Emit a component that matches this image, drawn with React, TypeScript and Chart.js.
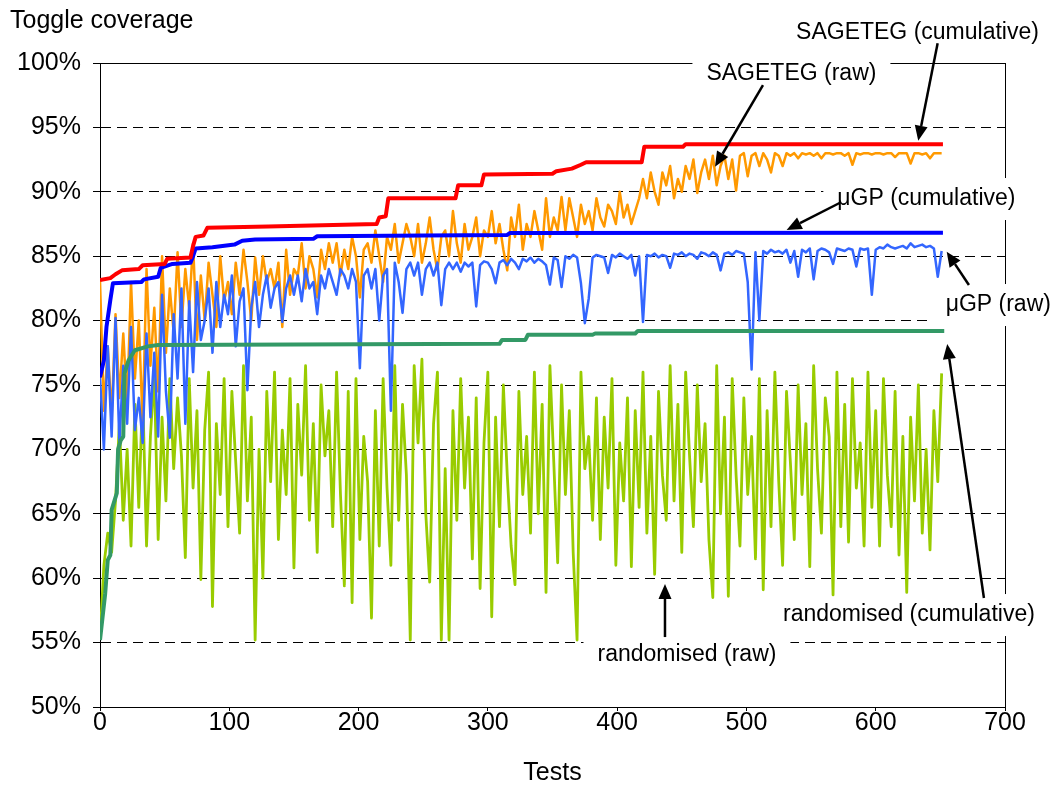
import React, { useEffect, useRef } from "react";
import { Chart, registerables } from "chart.js";

Chart.register(...registerables);

// ---------- data ----------
const X_MIN = 0;
const X_MAX = 700;
const X_STEP = 100;
const Y_MIN = 50;
const Y_MAX = 100;
const Y_STEP = 5;

// raw series are sampled every RAW_STEP tests
const RAW_STEP = 3;

const SAGETEG_RAW = [
  83.1, 73.0, 78.0, 72.5, 80.5, 74.0, 79.0, 73.5, 83.0, 75.5,
  80.0, 72.0, 84.0, 76.5, 81.0, 74.5, 85.0, 77.5, 82.5, 79.0,
  85.3, 79.5, 84.0, 81.0, 86.0, 78.5, 83.5, 80.0, 84.5, 82.0,
  79.5, 85.0, 81.5, 83.0, 80.5, 84.5, 82.0, 85.5, 83.0, 80.0,
  84.9, 82.0, 85.0, 83.0, 84.0, 82.5, 84.5, 79.5, 85.5, 82.0,
  84.0, 83.5, 86.0, 82.5, 85.0, 84.0, 81.8, 85.5, 84.0, 86.0,
  84.5, 86.0, 83.5, 85.5, 84.0, 86.5, 85.0, 81.8, 85.5, 86.0,
  84.5, 87.0, 85.0, 83.0, 86.5, 85.5, 87.5, 84.5, 86.0, 87.5,
  86.5, 85.0, 87.5, 84.5, 86.0, 88.0, 85.5, 83.9, 86.5, 87.0,
  85.0, 88.5, 86.0, 84.5, 87.5, 85.5, 86.5, 88.0, 85.0, 87.0,
  86.5, 88.5, 86.0, 87.5, 85.5, 83.9, 88.0, 86.5, 89.0, 85.5,
  87.5, 86.5, 88.5, 87.0, 85.5, 89.5, 86.5, 88.0, 87.0, 89.6,
  87.0, 89.5, 88.0, 86.5, 89.0, 87.5, 88.5, 87.0, 89.5, 88.0,
  87.3, 89.0, 88.5, 87.5, 90.0, 88.0, 89.0, 87.5, 88.5, 89.5,
  91.0, 89.5, 91.5, 90.0, 89.0, 91.5, 90.5, 92.0, 89.5, 91.0,
  90.0, 92.0, 91.0, 92.5, 89.9, 91.5, 92.5, 91.0, 92.8, 90.5,
  92.0, 92.8, 91.0, 92.5, 90.1, 92.8, 93.0, 91.2, 92.8, 93.0,
  92.0, 93.0, 92.5, 91.5, 93.0, 92.8, 92.0, 93.0, 92.8, 93.0,
  92.6, 93.0, 92.9, 93.0, 92.8, 93.0, 92.6, 93.0, 93.0, 92.9,
  93.0, 93.0, 92.8, 93.0, 92.1, 93.0, 92.9, 93.0, 93.0, 92.9,
  93.0, 93.0, 92.9, 93.0, 93.0, 92.7, 93.0, 93.0, 93.0, 92.2,
  93.0, 93.0, 92.9, 93.0, 92.6, 93.0, 93.0, 93.0,
];

const MUGP_RAW = [
  75.6, 70.0, 78.0, 71.0, 80.2, 70.5, 76.5, 72.0, 79.5, 71.5,
  74.0, 70.5, 79.0, 72.5, 77.5, 71.0, 82.0, 74.5, 70.9, 80.5,
  75.5, 82.5, 72.0, 81.5, 76.0, 83.0, 78.5, 80.0, 82.5, 77.5,
  83.0, 79.5, 82.0, 80.5, 83.5, 78.0, 81.5, 82.5, 74.6, 81.0,
  83.0, 79.5, 82.0, 83.5, 81.0, 82.5, 83.0, 79.9, 82.5, 83.5,
  82.0, 83.5, 81.5, 84.0, 82.5, 83.0, 80.5, 83.5, 82.5, 84.0,
  83.0, 82.0, 84.0, 83.5, 82.5, 84.0, 83.0, 76.3, 83.5, 84.0,
  82.5, 84.0, 80.0, 83.5, 84.0, 73.0, 84.5, 83.0, 80.6, 84.0,
  84.5, 83.5, 84.5, 82.0, 84.0, 84.5, 83.5, 84.5, 81.2, 84.0,
  84.5, 84.0, 84.5, 83.8, 84.5, 84.2, 84.5, 81.1, 84.3, 84.6,
  84.5, 84.0, 82.9, 84.5, 84.7, 84.3, 84.8, 84.5, 84.0, 84.8,
  84.6, 84.9, 84.5, 84.8, 84.6, 84.3, 82.8, 84.9, 84.7, 82.6,
  85.0, 84.8, 85.1, 84.9, 82.9, 79.8, 81.7, 84.9, 85.1, 85.0,
  84.9, 83.7, 85.1, 84.9, 85.2, 85.0, 84.8, 85.1, 83.5, 85.0,
  79.9, 85.1, 85.0, 85.2, 84.9, 85.1, 85.0, 84.1, 85.2, 85.1,
  85.3, 85.0, 85.2, 85.1, 84.8, 85.3, 85.2, 85.0, 85.3, 85.1,
  83.9, 85.2, 85.3, 85.1, 85.4, 85.3, 85.2, 83.0, 76.2, 85.3,
  80.0, 85.4, 85.2, 85.5, 85.3, 85.4, 85.2, 85.5, 84.5, 85.4,
  83.4, 85.5, 85.3, 85.6, 83.2, 85.4, 85.6, 85.5, 85.3, 84.4,
  85.6, 85.5, 85.4, 85.6, 85.5, 84.2, 85.6, 85.5, 85.6, 82.0,
  85.5, 85.7, 85.6, 85.9, 85.7, 85.6, 85.7, 85.8, 85.6, 86.0,
  85.7, 85.8, 85.9, 85.7, 85.8, 85.6, 83.4, 85.4,
];

const RANDOM_RAW = [
  55.2, 61.0, 63.5, 62.0, 66.0, 72.0, 64.5, 70.0, 62.5, 73.5,
  65.5, 74.5, 62.5, 71.0, 76.0, 63.0, 72.5, 66.0, 75.5, 68.5,
  74.0, 69.5, 61.6, 75.5, 67.0, 73.0, 59.9, 71.5, 76.0, 57.8,
  72.0, 66.5, 75.5, 64.0, 74.5, 69.0, 63.5, 76.5, 66.0, 72.5,
  55.2, 70.0, 60.0, 74.5, 67.5, 76.0, 63.0, 71.5, 66.5, 75.5,
  60.8, 73.5, 68.0, 76.5, 64.5, 72.0, 62.0, 75.0, 69.5, 73.0,
  64.0, 76.0, 66.5, 59.4, 74.5, 58.1, 75.5, 63.0, 71.0, 67.5,
  56.9, 73.0, 62.5, 75.5, 67.0, 61.0, 76.5, 64.5, 73.5, 68.0,
  55.2, 76.5, 70.5, 77.0, 65.0, 59.7, 72.0, 76.0, 55.2, 68.5,
  55.2, 73.0, 64.5, 75.5, 67.0, 72.5, 61.5, 74.0, 59.2, 70.5,
  76.0, 57.0, 72.5, 64.0, 75.0, 68.0, 62.5, 59.5, 74.5, 66.5,
  71.0, 63.5, 76.0, 65.0, 73.5, 58.9, 76.5, 69.0, 61.2, 75.0,
  66.5, 73.0, 62.0, 55.2, 76.0, 68.5, 71.0, 64.5, 74.0, 63.0,
  72.5, 67.0, 75.5, 61.0, 70.5, 66.0, 74.0, 60.9, 73.0, 65.5,
  76.0, 63.5, 71.0, 60.3, 74.5, 68.0, 64.5, 76.5, 66.0, 73.5,
  62.0, 76.0, 69.5, 64.0, 75.0, 67.5, 72.0, 63.0, 58.5, 76.5,
  65.0, 72.5, 58.6, 75.5, 68.0, 62.5, 74.0, 66.5, 71.0, 61.5,
  75.5, 59.1, 73.0, 64.0, 76.0, 67.5, 61.0, 74.5, 69.0, 63.0,
  75.0, 66.5, 72.0, 60.9, 76.5, 68.5, 63.5, 74.0, 71.0, 58.7,
  76.0, 64.0, 73.5, 62.8, 75.5, 67.0, 70.5, 62.5, 76.0, 65.5,
  73.0, 62.5, 75.5, 68.0, 64.0, 74.5, 61.8, 71.0, 58.9, 72.5,
  66.0, 75.0, 63.5, 70.0, 62.2, 73.0, 67.5, 75.9,
];

// cumulative series: breakpoints (test number, coverage %)
const SAGETEG_CUM_TESTS = [0, 8, 12, 17, 30, 33, 50, 52, 70, 72, 74, 80, 83, 130, 214, 216, 221, 223, 275, 277, 295, 297, 350, 353, 365, 372, 376, 419, 421, 451, 453, 652];
const SAGETEG_CUM = [83.15, 83.3, 83.6, 83.9, 84.0, 84.3, 84.4, 84.8, 84.9, 85.8, 86.5, 86.6, 87.2, 87.3, 87.5, 88.0, 88.1, 89.5, 89.5, 90.5, 90.5, 91.35, 91.4, 91.6, 91.8, 92.1, 92.3, 92.3, 93.5, 93.5, 93.7, 93.7];

const MUGP_CUM_TESTS = [0, 3, 5, 8, 10, 32, 34, 45, 47, 56, 70, 72, 74, 87, 104, 110, 120, 165, 168, 250, 315, 317, 652];
const MUGP_CUM = [75.6, 76.9, 79.5, 81.6, 82.9, 83.0, 83.2, 83.4, 84.1, 84.4, 84.5, 85.0, 85.6, 85.7, 85.9, 86.2, 86.3, 86.35, 86.55, 86.6, 86.65, 86.8, 86.83];

const RANDOM_CUM_TESTS = [0, 4, 6, 8, 9, 13, 14, 16, 18, 19, 22, 27, 37, 45, 309, 311, 329, 331, 381, 383, 414, 416, 653];
const RANDOM_CUM = [55.2, 58.8, 61.4, 61.8, 65.3, 66.6, 70.0, 70.7, 71.0, 75.9, 76.9, 77.7, 78.0, 78.1, 78.2, 78.5, 78.5, 78.9, 78.9, 79.0, 79.0, 79.2, 79.2];

// annotation labels (positions in data units: tests, %)
const NOTES = [
  { text: "SAGETEG (cumulative)", at: [632.3, 102.33], from: [647.9, 101.53], to: [632.9, 93.97] },
  { text: "SAGETEG (raw)", at: [534.8, 99.15], from: [512.8, 98.29], to: [475.7, 91.95] },
  { text: "\u03bcGP (cumulative)", at: [639.2, 89.44], from: [572.4, 89.15], to: [531.1, 87.03] },
  { text: "\u03bcGP (raw)", at: [694.8, 81.21], from: [672.1, 82.76], to: [654.9, 85.35] },
  { text: "randomised (cumulative)", at: [625.7, 57.14], from: [683.7, 58.46], to: [655.3, 78.18] },
  { text: "randomised (raw)", at: [454.0, 54.04], from: [437.0, 55.43], to: [437.0, 59.55] },
];

const Y_TITLE = "Toggle coverage";
const X_TITLE = "Tests";

// ---------- styling ----------
const FONT_FAMILY = "'Liberation Sans', Arial, Helvetica, sans-serif";
const AXIS_FONT_SIZE = 25;
const NOTE_FONT_SIZE = 23;

const W = 1056;
const H = 788;

function rawPoints(values: number[]) {
  return values.map((y, i) => ({ x: i * RAW_STEP, y }));
}
function cumPoints(tests: number[], values: number[]) {
  return values.map((y, i) => ({ x: tests[i], y }));
}

function drawArrow(ctx: CanvasRenderingContext2D, x1: number, y1: number, x2: number, y2: number) {
  const ang = Math.atan2(y2 - y1, x2 - x1);
  const hl = 15;
  const hw = 6.5;
  const bx = x2 - hl * Math.cos(ang);
  const by = y2 - hl * Math.sin(ang);
  ctx.beginPath();
  ctx.moveTo(x1, y1);
  ctx.lineTo(bx, by);
  ctx.stroke();
  ctx.beginPath();
  ctx.moveTo(x2, y2);
  ctx.lineTo(bx + hw * Math.sin(ang), by - hw * Math.cos(ang));
  ctx.lineTo(bx - hw * Math.sin(ang), by + hw * Math.cos(ang));
  ctx.closePath();
  ctx.fill();
}

const decorPlugin = {
  id: "decor",
  beforeDatasetsDraw(chart: any) {
    const { ctx, chartArea: a, scales } = chart;
    const xs = scales.x;
    const ys = scales.y;
    ctx.save();
    // plot frame
    ctx.strokeStyle = "#000";
    ctx.lineWidth = 1;
    ctx.setLineDash([]);
    ctx.strokeRect(Math.round(a.left) + 0.5, Math.round(a.top) + 0.5, Math.round(a.right - a.left), Math.round(a.bottom - a.top));
    // white label boxes
    ctx.font = `${NOTE_FONT_SIZE}px ${FONT_FAMILY}`;
    ctx.fillStyle = "#fff";
    for (const n of NOTES) {
      const w = ctx.measureText(n.text).width;
      const cx = xs.getPixelForValue(n.at[0]);
      const cy = ys.getPixelForValue(n.at[1]);
      ctx.fillRect(cx - w / 2 - 14, cy - 21, w + 28, 42);
    }
    ctx.restore();
  },
  afterDatasetsDraw(chart: any) {
    const { ctx, chartArea: a, scales } = chart;
    const xs = scales.x;
    const ys = scales.y;
    ctx.save();
    ctx.font = `${NOTE_FONT_SIZE}px ${FONT_FAMILY}`;
    ctx.fillStyle = "#000";
    ctx.strokeStyle = "#000";
    ctx.lineWidth = 2.5;
    ctx.textAlign = "center";
    ctx.textBaseline = "middle";
    for (const n of NOTES) {
      ctx.fillText(n.text, xs.getPixelForValue(n.at[0]), ys.getPixelForValue(n.at[1]));
      drawArrow(
        ctx,
        xs.getPixelForValue(n.from[0]),
        ys.getPixelForValue(n.from[1]),
        xs.getPixelForValue(n.to[0]),
        ys.getPixelForValue(n.to[1])
      );
    }
    // axis titles
    ctx.font = `${AXIS_FONT_SIZE}px ${FONT_FAMILY}`;
    ctx.textAlign = "left";
    ctx.textBaseline = "alphabetic";
    ctx.fillText(Y_TITLE, 10, 28);
    ctx.textAlign = "center";
    ctx.fillText(X_TITLE, (a.left + a.right) / 2, 780);
    ctx.restore();
  },
};

export default function App() {
  const canvasRef = useRef<HTMLCanvasElement | null>(null);

  useEffect(() => {
    const canvas = canvasRef.current;
    if (!canvas) return;
    const tickFont = { family: FONT_FAMILY, size: AXIS_FONT_SIZE };
    const chart = new Chart(canvas, {
      type: "line",
      data: {
        datasets: [
          { label: "SAGETEG (cumulative)", data: cumPoints(SAGETEG_CUM_TESTS, SAGETEG_CUM), borderColor: "#FF0000", borderWidth: 4, order: 1 },
          { label: "\u03bcGP (cumulative)", data: cumPoints(MUGP_CUM_TESTS, MUGP_CUM), borderColor: "#0000FF", borderWidth: 4, order: 2 },
          { label: "randomised (cumulative)", data: cumPoints(RANDOM_CUM_TESTS, RANDOM_CUM), borderColor: "#339966", borderWidth: 4, order: 3 },
          { label: "\u03bcGP (raw)", data: rawPoints(MUGP_RAW), borderColor: "#3366FF", borderWidth: 2.5, order: 4 },
          { label: "SAGETEG (raw)", data: rawPoints(SAGETEG_RAW), borderColor: "#FF9900", borderWidth: 2.5, order: 5 },
          { label: "randomised (raw)", data: rawPoints(RANDOM_RAW), borderColor: "#99CC00", borderWidth: 2.8, order: 6 },
        ] as any,
      },
      options: {
        animation: false,
        responsive: false,
        maintainAspectRatio: false,
        layout: { padding: { left: 0, top: 63, right: 51, bottom: 0 } },
        elements: {
          point: { radius: 0, hoverRadius: 0 },
          line: { tension: 0, fill: false, borderJoinStyle: "round" },
        },
        plugins: { legend: { display: false }, tooltip: { enabled: false } },
        scales: {
          x: {
            type: "linear",
            min: X_MIN,
            max: X_MAX,
            afterFit: (s: any) => { s.height = 81; },
            ticks: { stepSize: X_STEP, color: "#000", font: tickFont, padding: -3, maxRotation: 0 },
            grid: { display: true, drawOnChartArea: false, tickLength: 4, tickColor: "#000", color: "#000" },
            border: { color: "#000", width: 1 },
          },
          y: {
            type: "linear",
            min: Y_MIN,
            max: Y_MAX,
            afterFit: (s: any) => { s.width = 100; },
            ticks: { stepSize: Y_STEP, color: "#000", font: tickFont, padding: 12, callback: (v: any) => `${v}%` },
            grid: { color: "#000", lineWidth: 1, tickLength: 7, tickColor: "#000", tickBorderDash: [] },
            border: { color: "#000", width: 1, dash: [10, 6] },
          },
        },
      } as any,
      plugins: [decorPlugin],
    });
    return () => chart.destroy();
  }, []);

  return (
    <div style={{ position: "fixed", left: 0, top: 0, width: W, height: H, background: "#fff" }}>
      <canvas ref={canvasRef} width={W} height={H} style={{ display: "block", width: W, height: H }} />
    </div>
  );
}
